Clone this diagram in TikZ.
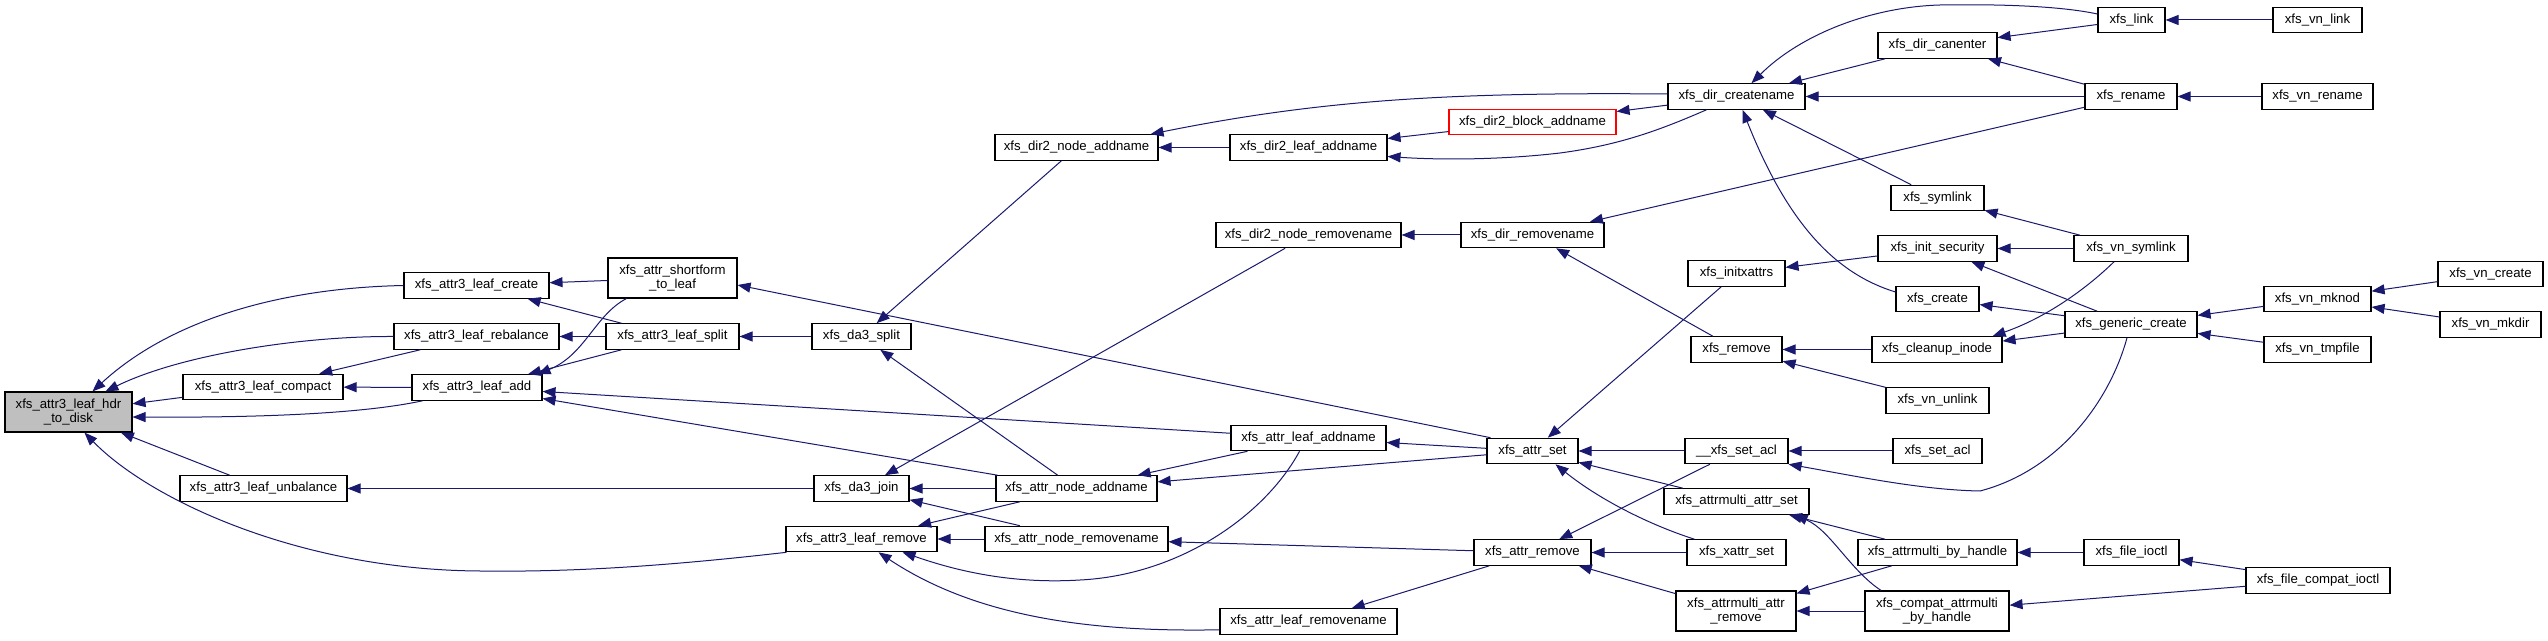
\documentclass[tikz,border=0pt]{standalone}
\usepackage{fontspec}
\setmainfont{Liberation Sans}
\usetikzlibrary{arrows.meta,calc}
\definecolor{eblue}{RGB}{25,25,112}
\definecolor{mgray}{RGB}{191,191,191}
\begin{document}
\begin{tikzpicture}[x=0.5pt,y=-0.5pt,
 fn/.style={draw=black,line width=0.55pt,fill=white,inner sep=0pt,minimum height=12.75pt,font=\fontsize{6.6pt}{6.7pt}\selectfont,align=center},
 two/.style={minimum height=20pt},
 cedge/.style={draw=eblue,line width=0.5pt,-{Triangle[length=6.5pt,width=5pt]}}]
\fill[white] (0,0) rectangle (2548,641);
\useasboundingbox (0,0) rectangle (2548,641);
% rank 0
\node[fn,two,fill=mgray,minimum width=63.5pt] (main) at (68.5,412) {xfs\_attr3\_leaf\_hdr\\\_to\_disk};
% rank 1
\node[fn,minimum width=80pt] (compact) at (263,387) {xfs\_attr3\_leaf\_compact};
\node[fn,minimum width=83.5pt] (unbal) at (263.5,488.5) {xfs\_attr3\_leaf\_unbalance};
% rank 2
\node[fn,minimum width=72.5pt] (lcreate) at (476.5,285.5) {xfs\_attr3\_leaf\_create};
\node[fn,minimum width=82.5pt] (rebal) at (476.5,336.5) {xfs\_attr3\_leaf\_rebalance};
\node[fn,minimum width=65pt] (ladd) at (477,387.5) {xfs\_attr3\_leaf\_add};
% rank 3
\node[fn,two,minimum width=64.5pt] (sform) at (672.5,278) {xfs\_attr\_shortform\\\_to\_leaf};
\node[fn,minimum width=66.5pt] (lsplit) at (672.5,336.5) {xfs\_attr3\_leaf\_split};
% rank 4
\node[fn,minimum width=49.5pt] (dsplit) at (861.5,336.5) {xfs\_da3\_split};
\node[fn,minimum width=47.5pt] (djoin) at (861.5,488.5) {xfs\_da3\_join};
\node[fn,minimum width=75.5pt] (lremove) at (861.5,539) {xfs\_attr3\_leaf\_remove};
% rank 5
\node[fn,minimum width=81.5pt] (dnadd) at (1076.5,147.5) {xfs\_dir2\_node\_addname};
\node[fn,minimum width=80.5pt] (anadd) at (1076.5,488.5) {xfs\_attr\_node\_addname};
\node[fn,minimum width=91.5pt] (anrem) at (1076.5,539) {xfs\_attr\_node\_removename};
% rank 6
\node[fn,minimum width=78.5pt] (dladd) at (1308.5,147.5) {xfs\_dir2\_leaf\_addname};
\node[fn,minimum width=92.5pt] (dnrem) at (1308.5,235) {xfs\_dir2\_node\_removename};
\node[fn,minimum width=77.5pt] (aladd) at (1308.5,438) {xfs\_attr\_leaf\_addname};
\node[fn,minimum width=88.5pt] (alrem) at (1308.5,621.5) {xfs\_attr\_leaf\_removename};
% rank 7
\node[fn,draw=red,minimum width=83.5pt] (dbadd) at (1532.5,122) {xfs\_dir2\_block\_addname};
\node[fn,minimum width=71.5pt] (drem) at (1532.5,235) {xfs\_dir\_removename};
\node[fn,minimum width=45.5pt] (aset) at (1532.5,451) {xfs\_attr\_set};
\node[fn,minimum width=58.5pt] (aremove) at (1532.5,552.5) {xfs\_attr\_remove};
% rank 8
\node[fn,minimum width=68.5pt] (dcreate) at (1736.5,96.5) {xfs\_dir\_createname};
\node[fn,minimum width=48.5pt] (initx) at (1736.5,273.5) {xfs\_initxattrs};
\node[fn,minimum width=45.5pt] (xremove) at (1736.5,349.5) {xfs\_remove};
\node[fn,minimum width=51.5pt] (usetacl) at (1736.5,451) {\_\_xfs\_set\_acl};
\node[fn,minimum width=72.5pt] (amset) at (1736.5,501.5) {xfs\_attrmulti\_attr\_set};
\node[fn,minimum width=49.5pt] (xaset) at (1736.5,552.5) {xfs\_xattr\_set};
\node[fn,two,minimum width=60pt] (amrem) at (1736,611) {xfs\_attrmulti\_attr\\\_remove};
% rank 9
\node[fn,minimum width=59.5pt] (canenter) at (1937.5,45.5) {xfs\_dir\_canenter};
\node[fn,minimum width=46.5pt] (symlink) at (1937.5,198) {xfs\_symlink};
\node[fn,minimum width=59.5pt] (initsec) at (1937.5,248.5) {xfs\_init\_security};
\node[fn,minimum width=41.5pt] (xcreate) at (1937.5,299) {xfs\_create};
\node[fn,minimum width=65pt] (cleanup) at (1937,349.5) {xfs\_cleanup\_inode};
\node[fn,minimum width=51.5pt] (vnunlink) at (1937.5,400.5) {xfs\_vn\_unlink};
\node[fn,minimum width=44.5pt] (setacl) at (1937.5,451) {xfs\_set\_acl};
\node[fn,minimum width=79.5pt] (ambh) at (1937.5,552.5) {xfs\_attrmulti\_by\_handle};
\node[fn,two,minimum width=72pt] (cambh) at (1937,611) {xfs\_compat\_attrmulti\\\_by\_handle};
% rank 10
\node[fn,minimum width=33.5pt] (link) at (2131.5,20) {xfs\_link};
\node[fn,minimum width=46pt] (rename) at (2131,96.5) {xfs\_rename};
\node[fn,minimum width=57pt] (vnsym) at (2131,248.5) {xfs\_vn\_symlink};
\node[fn,minimum width=66pt] (gencreate) at (2131,324.5) {xfs\_generic\_create};
\node[fn,minimum width=47.5pt] (fioctl) at (2131.5,552.5) {xfs\_file\_ioctl};
% rank 11
\node[fn,minimum width=44.5pt] (vnlink) at (2317.5,20) {xfs\_vn\_link};
\node[fn,minimum width=55.5pt] (vnrename) at (2317.5,96.5) {xfs\_vn\_rename};
\node[fn,minimum width=53.5pt] (vnmknod) at (2317.5,299) {xfs\_vn\_mknod};
\node[fn,minimum width=53.5pt] (vntmp) at (2317.5,349.5) {xfs\_vn\_tmpfile};
\node[fn,minimum width=72pt] (fcioctl) at (2318,580.5) {xfs\_file\_compat\_ioctl};
% rank 12
\node[fn,minimum width=52.5pt] (vncreate) at (2490.5,274) {xfs\_vn\_create};
\node[fn,minimum width=50.5pt] (vnmkdir) at (2490.5,324.5) {xfs\_vn\_mkdir};

% ---- edges (caller -> callee, arrow at callee)
\draw[cedge] (lcreate.west) .. controls (280,288) and (170,320) .. ($(main.north west)+(88,0)$);
\draw[cedge] (rebal.west) .. controls (300,336) and (180,355) .. ($(main.north west)+(101,0)$);
\draw[cedge] (compact) -- (main);
\draw[cedge] ($(ladd.south west)+(11,0)$) .. controls (380,410) and (300,418) .. ($(main.east)+(0,5)$);
\draw[cedge] (unbal) -- (main);
\draw[cedge] ($(lremove.south west)+(1,0)$) .. controls (650,568) and (560,572) .. (480,571) .. controls (300,570) and (150,500) .. ($(main.south west)+(80,0)$);
\draw[cedge] (rebal) -- (compact);
\draw[cedge] (ladd) -- (compact);
\draw[cedge] (sform) -- (lcreate);
\draw[cedge] (lsplit) -- (lcreate);
\draw[cedge] (lsplit) -- (rebal);
\draw[cedge] ($(sform.south west)+(19,0)$) .. controls (595,315) and (585,355) .. ($(ladd.north east)+(-5,0)$);
\draw[cedge] (lsplit) -- (ladd);
\draw[cedge] (aladd) -- (ladd);
\draw[cedge] (anadd) -- (ladd);
\draw[cedge] (djoin) -- (unbal);
\draw[cedge] (dsplit) -- (lsplit);
\draw[cedge] ($(aset.north west)+(4,0)$) -- ($(sform.east)+(0,7)$);
\draw[cedge] (dnadd) -- (dsplit);
\draw[cedge] (anadd) -- (dsplit);
\draw[cedge] (dnrem) -- (djoin);
\draw[cedge] (anadd) -- (djoin);
\draw[cedge] (anrem) -- (djoin);
\draw[cedge] (anadd) -- (lremove);
\draw[cedge] (anrem) -- (lremove);
\draw[cedge] ($(aladd.south)+(-9,0)$) .. controls (1265,515) and (1180,575) .. (1080,580) .. controls (1000,585) and (940,565) .. ($(lremove.south east)+(-35,0)$);
\draw[cedge] ($(alrem.south west)+(0,-5)$) .. controls (1100,632) and (980,620) .. ($(lremove.south)+(17,0)$);
\draw[cedge] (dladd) -- (dnadd);
\draw[cedge] ($(dcreate.west)+(0,-2.5)$) .. controls (1450,92) and (1320,100) .. ($(dnadd.north east)+(-8,0)$);
\draw[cedge] (dbadd) -- (dladd);
\draw[cedge] ($(dcreate.south west)+(39,0)$) .. controls (1660,130) and (1620,145) .. (1560,153) .. controls (1500,160) and (1440,160) .. ($(dladd.east)+(0,9)$);
\draw[cedge] (dcreate) -- (dbadd);
\draw[cedge] (drem) -- (dnrem);
\draw[cedge] (rename) -- (drem);
\draw[cedge] (xremove) -- (drem);
\draw[cedge] (aset) -- (aladd);
\draw[cedge] (aladd) -- (anadd);
\draw[cedge] (aset) -- (anadd);
\draw[cedge] (aremove) -- (anrem);
\draw[cedge] (aremove) -- (alrem);
\draw[cedge] (initx) -- (aset);
\draw[cedge] (usetacl) -- (aset);
\draw[cedge] (amset) -- (aset);
\draw[cedge] ($(xaset.north west)+(8,0)$) .. controls (1650,525) and (1600,500) .. ($(aset.south)+(23,0)$);
\draw[cedge] (usetacl) -- (aremove);
\draw[cedge] (xaset) -- (aremove);
\draw[cedge] (amrem) -- (aremove);
\draw[cedge] (canenter) -- (dcreate);
\draw[cedge] ($(link.west)+(0,-6)$) .. controls (2060,6) and (2000,4) .. (1940,5) .. controls (1870,7) and (1800,35) .. ($(dcreate.north)+(15,0)$);
\draw[cedge] (rename) -- (dcreate);
\draw[cedge] (symlink) -- (dcreate);
\draw[cedge] ($(xcreate.west)+(0,-7)$) .. controls (1840,275) and (1790,230) .. ($(dcreate.south)+(6,0)$);
\draw[cedge] (link) -- (canenter);
\draw[cedge] (rename) -- (canenter);
\draw[cedge] (cleanup) -- (xremove);
\draw[cedge] (vnunlink) -- (xremove);
\draw[cedge] (initsec) -- (initx);
\draw[cedge] (setacl) -- (usetacl);
\draw[cedge] ($(gencreate.south)+(-4,0)$) .. controls (2110,400) and (2060,470) .. (1980,491) .. controls (1920,490) and (1850,475) .. (usetacl.south east);
\draw[cedge] (ambh) -- (amset);
\draw[cedge] ($(cambh.north)+(-56,0)$) .. controls (1850,570) and (1830,530) .. ($(amset.south east)+(-15,0)$);
\draw[cedge] (ambh) -- (amrem);
\draw[cedge] (cambh) -- (amrem);
\draw[cedge] (vnlink) -- (link);
\draw[cedge] (vnrename) -- (rename);
\draw[cedge] (vnsym) -- (symlink);
\draw[cedge] (vnsym) -- (initsec);
\draw[cedge] (gencreate) -- (initsec);
\draw[cedge] (gencreate) -- (xcreate);
\draw[cedge] ($(vnsym.south)+(-17,0)$) .. controls (2085,290) and (2045,318) .. ($(cleanup.north east)+(-10,0)$);
\draw[cedge] (gencreate) -- (cleanup);
\draw[cedge] (fioctl) -- (ambh);
\draw[cedge] (fcioctl) -- (cambh);
\draw[cedge] (fcioctl) -- (fioctl);
\draw[cedge] (vnmknod) -- (gencreate);
\draw[cedge] (vntmp) -- (gencreate);
\draw[cedge] (vncreate) -- (vnmknod);
\draw[cedge] (vnmkdir) -- (vnmknod);
\end{tikzpicture}
\end{document}
